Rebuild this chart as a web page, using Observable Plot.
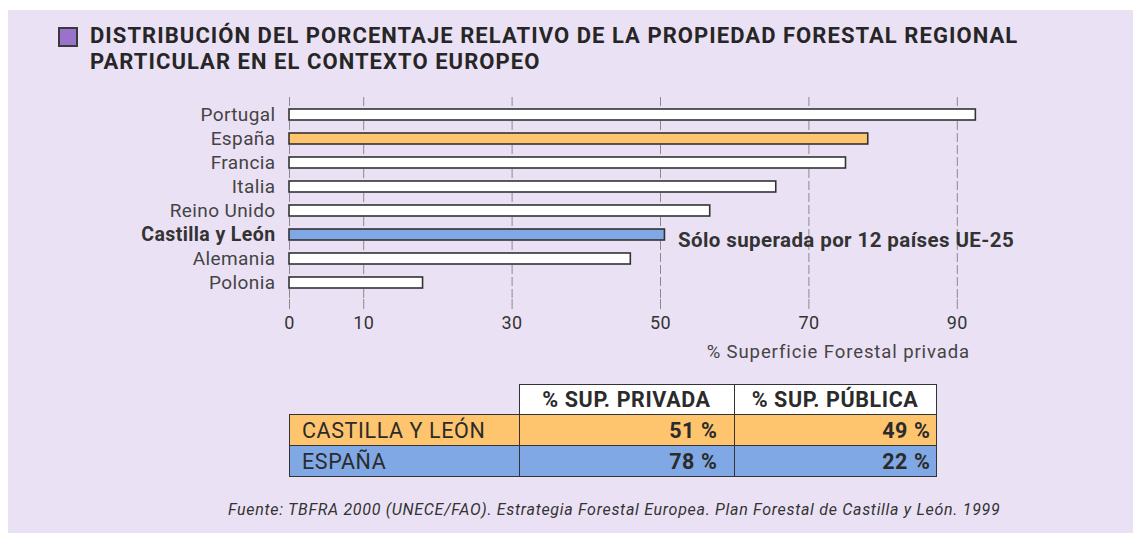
<!DOCTYPE html>
<html>
<head>
<meta charset="utf-8">
<script src="https://cdn.jsdelivr.net/npm/d3@7"></script>
<script src="https://cdn.jsdelivr.net/npm/@observablehq/plot@0.6"></script>
<style>
  html, body { margin: 0; padding: 0; background: #ffffff; }
  body { width: 1133px; height: 533px; position: relative; overflow: hidden; font-family: Roboto, "Noto Sans", sans-serif; }
  #panel { position: absolute; left: 8px; top: 10px; width: 1125px; height: 523px; background: #EBE1F5; }
  #square { position: absolute; left: 58px; top: 27px; width: 16px; height: 16px; background: #9B72CB; border: 2px solid #3a3a3a; }
  #title { position: absolute; left: 90px; top: 23px; font-size: 22px; font-weight: 700; color: #262626; line-height: 26px; letter-spacing: 1.05px; }
  #chart { position: absolute; left: 0; top: 80px; }
  #chart text { letter-spacing: 0.4px; }
  #xlabel { position: absolute; right: 163px; top: 341px; font-size: 18.5px; color: #444; letter-spacing: 0.9px; }
  #tbl { position: absolute; left: 289px; top: 384px; border-collapse: collapse; font-size: 21.5px; color: #2b2b2b; letter-spacing: 0.6px; }
  #tbl td, #tbl th { border: 1.5px solid #333; padding: 0 5px; }
  #tbl th { background: #fff; font-weight: 700; height: 29px; text-align: center; }
  #tbl th.empty { background: transparent; border: none; }
  #tbl td { height: 30px; }
  #tbl td.n { padding-left: 12px; }
  #tbl td.v { text-align: right; font-weight: 700; }
  #tbl td.v1 { padding-right: 16px; }
  #caption { position: absolute; left: 228px; top: 500px; font-size: 16px; font-style: italic; color: #333; letter-spacing: 0.7px; }
</style>
</head>
<body>
<div id="panel"></div>
<div id="square"></div>
<div id="title"></div>
<div id="chart"></div>
<div id="xlabel"></div>
<table id="tbl"></table>
<div id="caption"></div>
<script>
const titleLines = ["DISTRIBUCIÓN DEL PORCENTAJE RELATIVO DE LA PROPIEDAD FORESTAL REGIONAL", "PARTICULAR EN EL CONTEXTO EUROPEO"];
const countries = ["Portugal", "España", "Francia", "Italia", "Reino Unido", "Castilla y León", "Alemania", "Polonia"];
const privatePct = [92.5, 78, 75, 65.6, 56.7, 50.6, 46, 18];
const highlight = {"España": "#FFC46E", "Castilla y León": "#7FA8E4"};
const xTicks = [0, 10, 30, 50, 70, 90];
const xLabel = "% Superficie Forestal privada";
const note = "Sólo superada por 12 países UE-25";
const noteCountry = "Castilla y León";
const tableHeader = ["", "% SUP. PRIVADA", "% SUP. PÚBLICA"];
const tableRows = ["CASTILLA Y LEÓN", "ESPAÑA"];
const tablePrivada = [51, 78];
const tablePublica = [49, 22];
const tableColors = ["#FFC46E", "#7FA8E4"];
const caption = "Fuente: TBFRA 2000 (UNECE/FAO). Estrategia Forestal Europea. Plan Forestal de Castilla y León. 1999";

document.getElementById("title").innerHTML = titleLines.join("<br>");
document.getElementById("xlabel").textContent = xLabel;
document.getElementById("caption").textContent = caption;

const data = countries.map((c, i) => ({country: c, value: privatePct[i]}));

const chart = Plot.plot({
  width: 1133,
  height: 289,
  marginLeft: 289,
  marginRight: 102,
  marginTop: 17,
  marginBottom: 70,
  style: {background: "transparent", fontFamily: "Roboto, sans-serif"},
  x: {domain: [0, 100]},
  y: {domain: countries, paddingInner: 0.55, paddingOuter: 0.4, axis: null},
  marks: [
    Plot.ruleX(xTicks, {x: d => d, stroke: "#8a8a8a", strokeWidth: 1, strokeDasharray: "9,3"}),
    Plot.axisX({ticks: xTicks, tickSize: 10, tickPadding: 7, stroke: "#8a8a8a", fontSize: 18, color: "#333", label: null, tickFormat: d => String(d)}),
    Plot.barX(data, {y: "country", x: "value", fill: d => highlight[d.country] || "#ffffff", stroke: "#333", strokeWidth: 1.6}),
    Plot.text(data.filter(d => d.country !== noteCountry), {y: "country", text: "country", frameAnchor: "left", textAnchor: "end", dx: -14, fontSize: 19, fill: "#444"}),
    Plot.text(data.filter(d => d.country === noteCountry), {y: "country", text: "country", frameAnchor: "left", textAnchor: "end", dx: -14, fontSize: 19.5, fontWeight: 700, fill: "#333"}),
    Plot.text(data.filter(d => d.country === noteCountry), {y: "country", x: "value", text: () => note, textAnchor: "start", dx: 13, dy: 5, fontSize: 20.5, fontWeight: 700, fill: "#333"})
  ]
});
document.getElementById("chart").appendChild(chart);

const tbl = document.getElementById("tbl");
const widths = [229, 214, 201];
let html = "<tr>" + tableHeader.map((h, i) => i === 0 ? `<th class="empty" style="width:${widths[i]-10}px"></th>` : `<th style="width:${widths[i]-10}px">${h}</th>`).join("") + "</tr>";
tableRows.forEach((r, i) => {
  html += `<tr style="background:${tableColors[i]}"><td class="n">${r}</td><td class="v v1">${tablePrivada[i]} %</td><td class="v">${tablePublica[i]} %</td></tr>`;
});
tbl.innerHTML = html;
</script>
</body>
</html>
